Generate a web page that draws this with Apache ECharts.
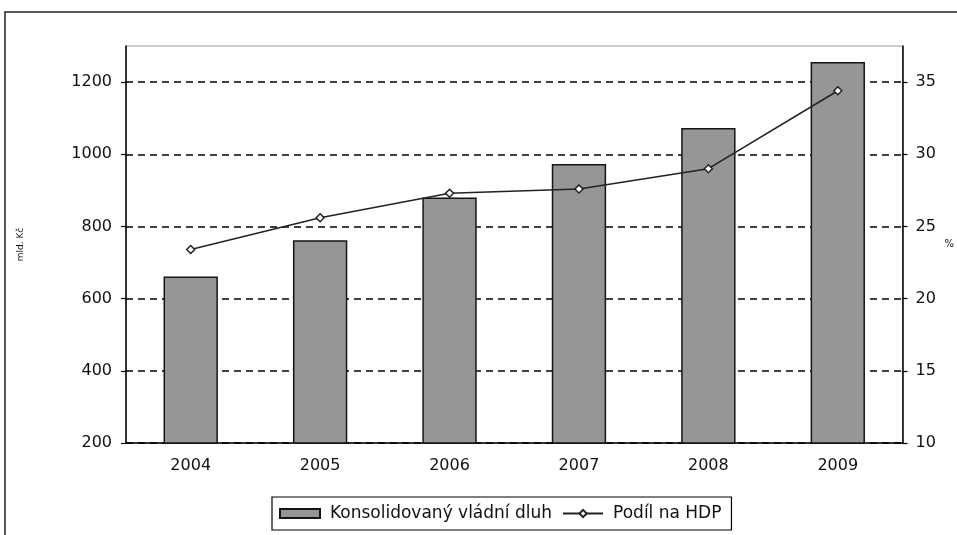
<!DOCTYPE html>
<html>
<head>
<meta charset="utf-8">
<script src="https://cdn.jsdelivr.net/npm/echarts@6/dist/echarts.min.js"></script>
<style>
  html, body { margin: 0; padding: 0; background: #fff; }
  #chart { width: 957px; height: 535px; }
</style>
</head>
<body>
<div id="chart"></div>
<script>
// Years on the category axis
const years = ['2004', '2005', '2006', '2007', '2008', '2009'];
// Consolidated government debt, bn CZK (left axis)
const debt = [661, 762, 880, 973, 1073, 1256];
// Share of GDP, % (right axis)
const shareOfGdp = [23.4, 25.6, 27.3, 27.6, 29.0, 34.4];

const debtName = 'Konsolidovaný vládní dluh';
const shareName = 'Podíl na HDP';
const font = '"DejaVu Sans", Verdana, sans-serif';

const chart = echarts.init(document.getElementById('chart'));

chart.setOption({
  animation: false,
  backgroundColor: '#fff',
  textStyle: { fontFamily: font, color: '#111' },
  graphic: [
    {
      type: 'rect',
      shape: { x: 5, y: 12, width: 1000, height: 600 },
      style: { fill: 'none', stroke: '#222', lineWidth: 1.5 },
      silent: true,
      z: -1
    }
  ],
  grid: {
    left: 126,
    right: 52,
    top: 46,
    bottom: 92,
    show: true,
    borderColor: '#9a9a9a',
    borderWidth: 1,
    backgroundColor: 'transparent'
  },
  legend: {
    left: 272,
    top: 497,
    padding: [8, 10, 8, 7],
    borderColor: '#000',
    borderWidth: 1.2,
    itemGap: 10,
    itemWidth: 40,
    itemHeight: 9,
    textStyle: { fontFamily: font, fontSize: 17, color: '#111', padding: [0, 0, 0, 5] },
    data: [
      { name: debtName, icon: 'rect' },
      { name: shareName }
    ]
  },
  xAxis: {
    type: 'category',
    data: years,
    boundaryGap: true,
    axisLine: { lineStyle: { color: '#000', width: 1.5 } },
    axisTick: { inside: true, length: 7, lineStyle: { color: '#000', width: 1.2 } },
    axisLabel: { fontSize: 16, color: '#111', margin: 15, fontFamily: font },
    splitLine: { show: false }
  },
  yAxis: [
    {
      type: 'value',
      min: 200,
      max: 1300,
      interval: 200,
      name: 'mld. Kč',
      nameLocation: 'middle',
      nameRotate: 90,
      nameGap: 101,
      nameTextStyle: { fontSize: 9, color: '#111', fontFamily: font },
      axisLine: { show: true, lineStyle: { color: '#000', width: 1.5 } },
      axisTick: { show: true, length: 5, lineStyle: { color: '#000', width: 1.2 } },
      axisLabel: {
        fontSize: 16, color: '#111', margin: 14, showMaxLabel: false, fontFamily: font,
        formatter: (v) => String(v)
      },
      splitLine: {
        show: true,
        lineStyle: {
          color: ['#000', '#000', '#000', '#000', '#000', '#000', 'rgba(0,0,0,0)'],
          type: [7, 5],
          width: 1.5
        }
      }
    },
    {
      type: 'value',
      position: 'right',
      min: 10,
      max: 37.5,
      interval: 5,
      name: '%',
      nameLocation: 'middle',
      nameRotate: 0,
      nameGap: 42,
      nameTextStyle: { fontSize: 10, color: '#111', fontFamily: font },
      axisLine: { show: true, lineStyle: { color: '#000', width: 1.5 } },
      axisTick: { show: true, length: 5, lineStyle: { color: '#000', width: 1.2 } },
      axisLabel: {
        fontSize: 16, color: '#111', margin: 13, showMaxLabel: false, fontFamily: font,
        formatter: (v) => String(v)
      },
      splitLine: { show: false }
    }
  ],
  series: [
    {
      name: debtName,
      type: 'bar',
      yAxisIndex: 0,
      data: debt,
      barWidth: '42%',
      itemStyle: { color: '#969696', borderColor: '#151515', borderWidth: 1.5 },
      z: 2
    },
    {
      name: shareName,
      type: 'line',
      yAxisIndex: 1,
      data: shareOfGdp,
      symbol: 'diamond',
      symbolSize: 8,
      showAllSymbol: true,
      lineStyle: { color: '#222', width: 1.5 },
      itemStyle: { color: '#fff', borderColor: '#222', borderWidth: 1.5 },
      z: 3
    }
  ]
});
</script>
</body>
</html>
